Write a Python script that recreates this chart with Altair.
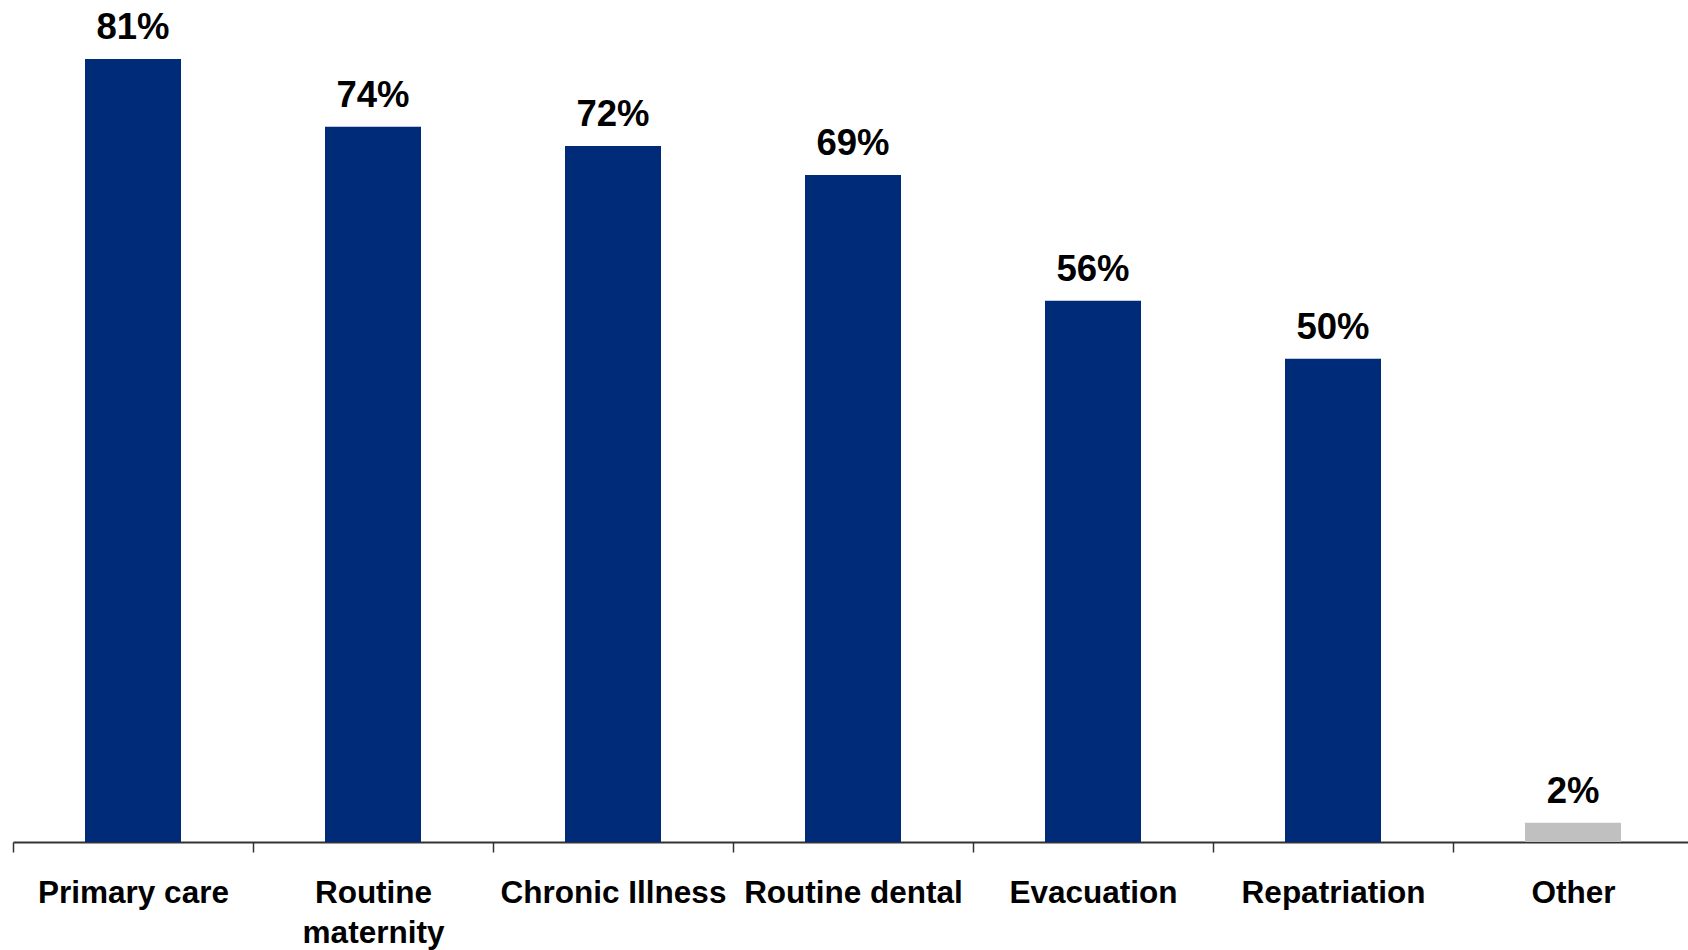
import altair as alt
import pandas as pd

# Share of respondents whose plans cover each benefit
categories = ["Primary care", "Routine maternity", "Chronic Illness",
              "Routine dental", "Evacuation", "Repatriation", "Other"]
values = [81, 74, 72, 69, 56, 50, 2]

df = pd.DataFrame({"category": categories, "value": values})

NAVY = "#002B78"
GREY = "#C0C0C0"
FONT = "Liberation Sans"

x = alt.X(
    "category:N",
    sort=categories,
    scale=alt.Scale(paddingInner=0, paddingOuter=0, range=[0, 1680]),
    axis=alt.Axis(
        title=None,
        tickBand="extent",
        domainColor="#333333",
        domainWidth=2,
        tickColor="#333333",
        tickWidth=1.5,
        tickSize=10,
        labelAngle=0,
        labelFont=FONT,
        labelFontSize=31.5,
        labelFontWeight="bold",
        labelColor="#000000",
        labelPadding=25,
        labelBaseline="top",
        labelLineHeight=40,
        labelOverlap=False,
        labelBound=False,
        labelLimit=0,
        labelExpr="datum.value == 'Routine maternity' ? ['Routine', 'maternity'] : datum.value",
    ),
)
y = alt.Y("value:Q", scale=alt.Scale(domain=[0, 87]), axis=None)

bars = alt.Chart(df).mark_bar(width=alt.RelativeBandSize(0.4)).encode(
    x=x,
    y=y,
    color=alt.condition(alt.datum.category == "Other", alt.value(GREY), alt.value(NAVY)),
)

labels = alt.Chart(df).transform_calculate(
    label="datum.value + '%'"
).mark_text(
    font=FONT, fontSize=36.5, fontWeight="bold", color="#000000",
    baseline="alphabetic", dy=-20,
).encode(x=x, y=y, text="label:N")

chart = alt.layer(bars, labels).properties(
    width=1675,
    height=841,
    autosize=alt.AutoSizeParams(type="none"),
    padding={"left": 13, "top": 1, "right": 0, "bottom": 108},
).configure_view(stroke=None)

chart.save("out.html", embed_options={"renderer": "svg", "actions": False})
